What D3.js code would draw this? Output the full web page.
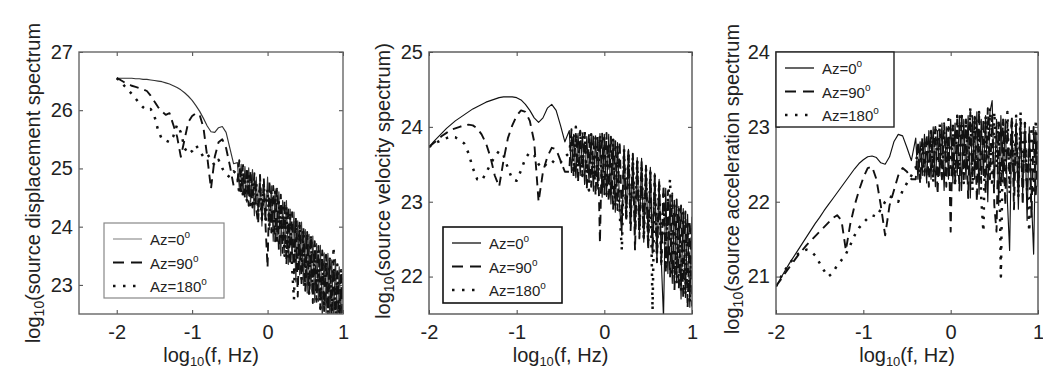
<!DOCTYPE html>
<html>
<head>
    <meta charset="utf-8">
    <title>Source spectra by azimuth</title>
    <script src="https://d3js.org/d3.v7.min.js"></script>
    <style>
        body { margin: 0; background: #fff; }
        svg { display: block; font-family: "Liberation Sans", Arial, Helvetica, sans-serif; }
        .tick line { stroke: #444; }
        .tick text { fill: #222; }
    </style>
</head>
<body>
<svg width="1043" height="372"></svg>
<script>

    // log10 of frequency (Hz) shared by every curve
    var logF = [
        -2.00,-1.95,-1.90,-1.85,-1.80,-1.75,-1.70,-1.65,-1.60,-1.55,-1.50,-1.45,-1.40,-1.35,-1.30,-1.25,-1.20,-1.15,-1.10,-1.05,-1.00,-0.95,-0.90,-0.85,-0.80,-0.75,-0.70,-0.65,-0.60,-0.55,-0.50,-0.45,
        -0.400,-0.375,-0.350,-0.325,-0.300,-0.275,-0.250,-0.225,-0.200,-0.175,-0.150,-0.125,-0.100,-0.075,-0.050,-0.025,
        0.000,0.025,0.050,0.075,0.100,0.125,0.150,0.175,0.200,0.225,0.250,0.275,0.300,0.325,0.350,0.375,0.400,0.425,0.450,0.475,
        0.500,0.525,0.550,0.575,0.600,0.625,0.650,0.675,0.700,0.725,0.750,0.775,0.800,0.825,0.850,0.875,0.900,0.925,0.950,0.975,1.000
    ];

    // displacement spectrum
    var dispAz0 = [
        26.55,26.55,26.55,26.55,26.55,26.54,26.54,26.53,26.53,26.52,26.51,26.50,26.49,26.47,26.45,26.42,26.39,26.35,26.30,26.24,26.17,26.08,25.98,25.86,25.73,25.63,25.62,25.70,25.72,25.62,25.35,25.08,
        25.10,24.67,25.07,24.54,25.03,24.42,25.01,24.42,24.98,24.19,24.85,24.17,24.89,24.01,24.78,24.11,
        24.85,23.95,24.70,23.75,24.65,23.80,24.60,23.50,24.45,23.55,24.45,23.35,24.30,23.40,24.25,23.05,24.10,23.17,24.08,22.99,
        23.95,22.86,23.87,22.93,23.84,22.70,23.71,22.72,23.68,22.44,23.55,22.52,23.54,22.41,23.43,22.41,23.44,22.30,23.31,22.33,23.20
    ];
    var dispAz90 = [
        26.55,26.52,26.48,26.45,26.42,26.40,26.38,26.36,26.33,26.25,26.15,26.05,25.98,25.92,25.95,25.75,25.55,25.20,25.50,25.80,25.90,25.95,25.92,25.70,25.20,24.65,25.20,25.45,25.50,25.35,25.05,24.70,
        24.75,25.14,24.59,25.06,24.48,25.02,24.36,24.97,24.33,24.92,24.30,24.05,24.89,24.11,24.83,23.96,
        23.30,24.80,23.90,24.70,23.75,24.65,23.60,24.55,23.55,24.45,23.35,24.35,23.35,24.25,23.20,24.15,22.80,24.07,23.03,23.99,
        22.90,23.91,22.87,23.83,22.69,23.75,22.71,23.67,22.58,23.59,22.55,23.52,22.44,23.41,22.48,23.41,22.39,23.30,22.36,23.23,22.35
    ];
    var dispAz180 = [
        26.55,26.50,26.42,26.35,26.28,26.20,26.12,26.05,26.00,26.02,25.90,25.65,25.50,25.48,25.45,25.55,25.75,25.62,25.35,25.25,25.30,25.40,25.30,25.20,25.25,25.15,25.05,25.15,25.00,24.90,24.85,24.95,
        24.90,24.55,25.00,24.50,24.85,24.45,24.90,24.30,24.80,24.35,24.75,24.25,24.70,24.10,24.75,24.05,
        24.65,24.00,24.60,23.85,24.60,23.70,24.45,23.75,24.40,23.50,24.35,23.45,24.25,23.30,22.75,24.10,23.25,24.05,23.10,23.95,
        23.00,23.90,22.85,23.85,22.80,23.70,22.75,23.65,22.60,23.55,22.60,23.50,22.50,23.45,22.45,23.65,22.40,23.35,22.40,23.25,22.45
    ];

    // velocity spectrum
    var velAz0 = [
        23.73,23.80,23.86,23.92,23.98,24.03,24.08,24.12,24.16,24.20,24.24,24.27,24.30,24.33,24.35,24.37,24.39,24.40,24.40,24.40,24.39,24.36,24.30,24.22,24.12,24.06,24.12,24.25,24.30,24.22,24.02,23.80,
        23.95,23.39,23.90,23.32,23.91,23.35,23.92,23.23,23.87,23.26,23.90,23.14,23.88,23.17,23.91,23.06,
        23.90,23.07,23.90,22.97,23.84,22.86,23.79,22.91,22.55,23.75,22.78,23.70,22.67,23.64,22.57,23.59,22.56,23.58,22.46,23.48,
        22.45,23.46,22.32,23.38,22.19,23.30,22.21,21.45,23.18,22.04,23.10,21.91,23.02,21.93,22.94,21.70,22.91,21.72,22.83,21.59,22.80
    ];
    var velAz90 = [
        23.73,23.78,23.83,23.88,23.92,23.96,23.98,24.00,24.02,24.03,24.02,23.98,23.90,23.78,23.60,23.35,23.20,23.55,23.85,24.02,24.15,24.22,24.20,24.08,23.80,23.00,23.40,23.60,23.72,23.70,23.55,23.40,
        23.40,23.97,23.33,23.92,23.26,23.95,23.34,23.91,23.17,23.91,23.20,23.89,23.08,23.87,22.45,23.91,
        23.10,23.92,23.00,23.87,22.89,23.81,22.89,23.81,22.73,23.70,22.73,23.70,22.62,23.64,22.35,23.59,22.51,23.53,22.51,23.48,
        22.35,23.41,22.32,23.33,22.19,23.30,22.16,23.22,22.03,23.14,22.00,23.11,21.82,23.03,21.84,22.95,21.71,22.87,21.58,22.74,21.60
    ];
    var velAz180 = [
        23.73,23.77,23.80,23.83,23.85,23.87,23.86,23.82,23.78,23.65,23.45,23.30,23.28,23.38,23.50,23.60,23.68,23.62,23.45,23.30,23.28,23.42,23.58,23.66,23.62,23.50,23.45,23.52,23.55,23.50,23.52,23.60,
        23.65,23.90,23.40,24.00,23.45,23.95,23.35,23.95,23.30,23.15,23.90,23.30,23.85,23.20,23.90,23.15,
        23.85,23.10,23.80,23.05,23.85,22.95,23.75,22.85,22.35,23.70,22.80,23.65,22.70,23.60,22.65,23.55,22.60,23.50,22.50,23.45,
        22.45,23.40,21.55,23.35,22.30,23.25,22.20,23.15,22.10,23.05,23.30,22.00,22.95,21.90,22.90,21.80,22.85,21.75,22.75,21.65,22.70
    ];

    // acceleration spectrum
    var accAz0 = [
        20.87,20.97,21.07,21.17,21.26,21.35,21.44,21.53,21.62,21.71,21.79,21.88,21.96,22.04,22.12,22.20,22.28,22.36,22.44,22.51,22.56,22.60,22.61,22.59,22.52,22.50,22.60,22.80,22.90,22.88,22.72,22.55,
        22.85,22.30,22.80,22.35,22.90,22.25,22.95,22.30,23.00,22.20,22.95,22.35,23.05,22.15,23.00,22.30,
        23.10,22.25,23.05,22.35,23.15,22.15,23.10,22.30,23.15,22.05,23.15,22.30,23.20,22.10,23.10,22.35,23.15,22.00,23.20,23.35,
        22.20,23.10,21.95,23.15,22.25,23.10,22.00,21.35,23.05,22.15,23.10,21.90,23.05,22.10,23.00,21.75,23.00,22.05,21.30,22.95,22.20
    ];
    var accAz90 = [
        20.87,20.95,21.04,21.12,21.20,21.28,21.35,21.42,21.48,21.54,21.60,21.66,21.72,21.78,21.82,21.75,21.35,21.70,21.95,22.15,22.32,22.45,22.47,22.30,21.95,21.55,21.95,22.15,22.35,22.45,22.40,22.30,
        22.30,22.80,22.25,22.85,22.35,22.90,22.20,22.95,22.35,23.00,22.10,22.95,22.30,23.05,22.20,23.00,
        21.60,23.00,22.25,23.10,22.15,23.15,22.30,23.10,22.05,23.20,22.30,23.15,22.00,23.20,22.25,23.10,22.10,23.25,22.30,23.15,
        21.95,21.60,23.05,22.20,23.10,21.95,23.05,22.25,23.15,21.90,23.00,22.20,23.10,21.95,23.05,22.15,22.95,21.80,23.00,22.10,22.90
    ];
    var accAz180 = [
        20.87,20.98,21.08,21.17,21.24,21.30,21.34,21.36,21.34,21.28,21.18,21.08,21.00,21.05,21.15,21.22,21.30,21.42,21.55,21.65,21.72,21.78,21.82,21.80,21.90,22.00,22.07,22.05,22.00,22.15,22.25,22.35,
        22.45,22.75,22.30,22.80,22.40,22.85,22.35,22.95,22.25,23.00,22.45,23.05,22.30,22.95,22.50,23.10,
        22.40,23.05,22.20,23.15,22.50,23.20,22.25,23.10,22.45,23.25,22.15,23.15,22.40,23.20,22.05,21.60,23.15,22.35,23.25,22.20,
        23.20,22.45,23.10,21.00,23.05,22.30,23.20,22.10,23.10,22.40,23.15,22.05,23.20,22.35,23.05,22.15,21.60,23.00,22.10,23.10,22.45
    ];

    // ticks and legend
    var xTicks = [-2, -1, 0, 1];
    var dispTicks = [23, 24, 25, 26, 27];
    var velTicks = [22, 23, 24, 25];
    var accTicks = [21, 22, 23, 24];
    var azimuths = ["0", "90", "180"];

    var svg = d3.select("svg");

    // line style of each azimuth: solid, dashed, dotted
    var styles = [
        {dash: null, width: 1.15},
        {dash: "9,6", width: 1.9},
        {dash: "2.5,7", width: 2.5}
    ];

    var panels = [
        {id: "p1", left: 79, right: 343, top: 52, bottom: 314, xDomain: [-2.5, 1], yDomain: [22.5, 27],
            yTicks: dispTicks, series: [dispAz0, dispAz90, dispAz180],
            label: "(source displacement spectrum", labelX: 33, labelY: 183,
            frame: "#666", solidColor: "#333", legendSolid: "#999",
            legend: {x: 104, y: 223, w: 120, h: 75, stroke: "#888", sw: 1.2}},
        {id: "p2", left: 429, right: 692, top: 52, bottom: 314, xDomain: [-2, 1], yDomain: [21.5, 25],
            yTicks: velTicks, series: [velAz0, velAz90, velAz180],
            label: "(source velocity spectrum)", labelX: 383, labelY: 181,
            frame: "#555", solidColor: "#111", legendSolid: "#111",
            legend: {x: 443, y: 227, w: 119, h: 76, stroke: "#111", sw: 1.6}},
        {id: "p3", left: 776, right: 1038, top: 52, bottom: 314, xDomain: [-2, 1], yDomain: [20.5, 24],
            yTicks: accTicks, series: [accAz0, accAz90, accAz180],
            label: "(source acceleration spectrum", labelX: 732, labelY: 179,
            frame: "#555", solidColor: "#111", legendSolid: "#111",
            legend: {x: 776, y: 52, w: 118, h: 75, stroke: "#222", sw: 1.4}}
    ];

    panels.forEach(function(p) {
        p.series.forEach(function(s) {
            if (s.length != logF.length) throw new Error(p.id + " series length " + s.length);
        });
        drawPanel(p);
    });

    function styleAxis(g) {
        g.select(".domain").remove();
        g.attr("font-size", 20)
            .attr("font-family", "'Liberation Sans', Arial, Helvetica, sans-serif");
    }

    function drawPanel(p) {
        var x = d3.scaleLinear().domain(p.xDomain).range([p.left, p.right]);
        var y = d3.scaleLinear().domain(p.yDomain).range([p.bottom, p.top]);

        svg.append("clipPath").attr("id", "clip-" + p.id)
            .append("rect")
            .attr("x", p.left).attr("y", p.top)
            .attr("width", p.right - p.left).attr("height", p.bottom - p.top);

        // curves
        var line = d3.line()
            .x(function(d) { return x(d[0]); })
            .y(function(d) { return y(d[1]); });

        var curves = svg.append("g").attr("clip-path", "url(#clip-" + p.id + ")");
        p.series.forEach(function(s, i) {
            curves.append("path")
                .datum(d3.zip(logF, s))
                .attr("d", line)
                .attr("fill", "none")
                .attr("stroke", i == 0 ? p.solidColor : "#111")
                .attr("stroke-width", styles[i].width)
                .attr("stroke-dasharray", styles[i].dash)
                .attr("stroke-linejoin", "round");
        });

        // axes with inward ticks on all four sides
        svg.append("g")
            .attr("transform", "translate(0," + p.bottom + ")")
            .call(d3.axisBottom(x).tickValues(xTicks).tickSizeInner(-4).tickSizeOuter(0).tickPadding(11)
                .tickFormat(function(d) { return d3.format("d")(d).replace("\u2212", "-"); }))
            .call(styleAxis);
        svg.append("g")
            .attr("transform", "translate(0," + p.top + ")")
            .call(d3.axisTop(x).tickValues(xTicks).tickSizeInner(-4).tickSizeOuter(0).tickFormat(""))
            .call(styleAxis);
        svg.append("g")
            .attr("transform", "translate(" + p.left + ",0)")
            .call(d3.axisLeft(y).tickValues(p.yTicks).tickSizeInner(-4).tickSizeOuter(0).tickPadding(6)
                .tickFormat(d3.format("d")))
            .call(styleAxis);
        svg.append("g")
            .attr("transform", "translate(" + p.right + ",0)")
            .call(d3.axisRight(y).tickValues(p.yTicks).tickSizeInner(-4).tickSizeOuter(0).tickFormat(""))
            .call(styleAxis);

        svg.append("rect")
            .attr("x", p.left).attr("y", p.top)
            .attr("width", p.right - p.left).attr("height", p.bottom - p.top)
            .attr("fill", "none")
            .attr("stroke", p.frame)
            .attr("stroke-width", 1.4);

        // y label, rotated, with subscript 10
        var yl = svg.append("text")
            .attr("transform", "translate(" + p.labelX + "," + p.labelY + ") rotate(-90)")
            .attr("text-anchor", "middle")
            .attr("dominant-baseline", "central")
            .attr("font-size", 20)
            .attr("fill", "#222");
        yl.append("tspan").text("log");
        yl.append("tspan").attr("font-size", 14).attr("dy", 6).text("10");
        yl.append("tspan").attr("dy", -6).text(p.label);

        // x label
        var xl = svg.append("text")
            .attr("x", (p.left + p.right) / 2)
            .attr("y", 362)
            .attr("text-anchor", "middle")
            .attr("font-size", 20)
            .attr("fill", "#222");
        xl.append("tspan").text("log");
        xl.append("tspan").attr("font-size", 13).attr("dy", 4).text("10");
        xl.append("tspan").attr("dy", -4).text("(f, Hz)");

        // legend
        var L = p.legend;
        var lg = svg.append("g");
        lg.append("rect")
            .attr("x", L.x).attr("y", L.y).attr("width", L.w).attr("height", L.h)
            .attr("fill", "#fff")
            .attr("stroke", L.stroke)
            .attr("stroke-width", L.sw);

        var rows = lg.selectAll("g.row")
            .data(azimuths)
            .enter().append("g")
            .attr("class", "row")
            .attr("transform", function(d, i) { return "translate(0," + (L.y + 16 + i * 23.5) + ")"; });

        rows.append("line")
            .attr("x1", L.x + 9).attr("x2", L.x + 38)
            .attr("y1", 0).attr("y2", 0)
            .attr("stroke", function(d, i) { return i == 0 ? p.legendSolid : "#111"; })
            .attr("stroke-width", function(d, i) { return i == 0 ? 1.3 : styles[i].width; })
            .attr("stroke-dasharray", function(d, i) { return i == 1 ? "11,7" : (i == 2 ? "2.5,7.5" : null); });

        var t = rows.append("text")
            .attr("x", L.x + 46)
            .attr("y", 6)
            .attr("font-size", 15)
            .attr("fill", "#222");
        t.append("tspan").text(function(d) { return "Az=" + d; });
        t.append("tspan").attr("font-size", 10).attr("dy", -7).text("o");
    }

</script>
</body>
</html>
